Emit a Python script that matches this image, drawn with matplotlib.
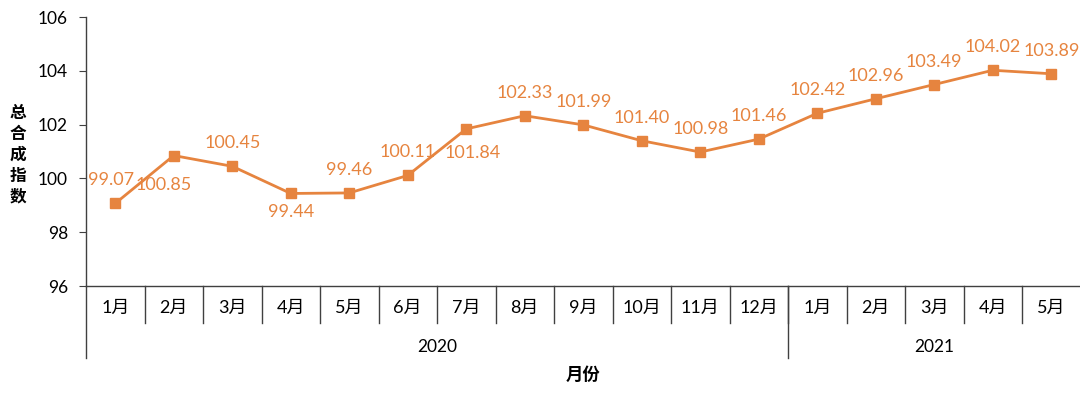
import matplotlib
matplotlib.use("Agg")
import matplotlib.pyplot as plt
from matplotlib.lines import Line2D

plt.rcParams['font.family'] = ['Lato', 'Noto Sans CJK SC', 'DejaVu Sans']

months = ["1月", "2月", "3月", "4月", "5月", "6月", "7月", "8月", "9月", "10月", "11月", "12月",
          "1月", "2月", "3月", "4月", "5月"]
years = ["2020", "2021"]
year_counts = [12, 5]
values = [99.07, 100.85, 100.45, 99.44, 99.46, 100.11, 101.84, 102.33, 101.99, 101.40,
          100.98, 101.46, 102.42, 102.96, 103.49, 104.02, 103.89]
# label placement keys (negative dy = below)
label_pos = ["above_left", "below_left", "above", "below", "above", "above", "below_right", "above",
             "above", "above", "above", "above", "above", "above", "above", "above", "above"]
offsets = {"above": (0, 23), "above_left": (-4, 23), "below": (0, -19),
           "below_left": (-10, -29), "below_right": (6, -24)}

color = "#E6843F"
axis_color = "#404040"

fig = plt.figure(figsize=(10.8, 3.94), dpi=100)
W, H = 1080, 394
left, right, top, bottom = 86, 1080.5, 17, 286
ax = fig.add_axes([left / W, 1 - bottom / H, (right - left) / W, (bottom - top) / H])

x = list(range(len(values)))
ax.plot(x, values, color=color, lw=2, marker="s", ms=7, mec=color, mfc=color, zorder=3)

for xi, v, pos in zip(x, values, label_pos):
    dx, dy = offsets[pos]
    ax.annotate(f"{v:.2f}", (xi, v), xytext=(dx, dy), textcoords="offset pixels",
                ha="center", va="center", color=color, fontsize=13)

ax.set_xlim(-0.5, len(values) - 0.5)
ax.set_ylim(96, 106)
ax.set_yticks([96, 98, 100, 102, 104, 106])
ax.tick_params(axis="y", direction="out", length=5, color=axis_color, labelsize=12.5, pad=8)
ax.set_xticks([])
for s in ["top", "right"]:
    ax.spines[s].set_visible(False)
for s in ["left", "bottom"]:
    ax.spines[s].set_color(axis_color)
    ax.spines[s].set_linewidth(1)

ah = bottom - top
month_sep = -37 / ah
year_sep = -72 / ah
trans = ax.get_xaxis_transform()

# month labels and separators
for i, m in enumerate(months):
    ax.text(i, -22 / ah, m, transform=trans, ha="center", va="center", fontsize=13)
for i in range(1, len(months)):
    b = i - 0.5
    ax.add_line(Line2D([b, b], [0, month_sep], transform=trans, color=axis_color, lw=1,
                       clip_on=False))

# year labels and separators
start = 0
bounds = [-0.5]
for yname, cnt in zip(years, year_counts):
    center = start + (cnt - 1) / 2
    ax.text(center, -61 / ah, yname, transform=trans, ha="center", va="center", fontsize=12.5)
    start += cnt
    bounds.append(start - 0.5)
for b in bounds[:-1]:
    ax.add_line(Line2D([b, b], [0, year_sep], transform=trans, color=axis_color, lw=1,
                       clip_on=False))

ax.text(0.5, -89 / ah, "月份", transform=ax.transAxes, ha="center", va="center",
        fontsize=12.5, fontweight="bold", family=['Noto Sans CJK SC', 'DejaVu Sans'])

fig.text(18 / W, 1 - 155 / H, "总\n合\n成\n指\n数", ha="center", va="center", fontsize=12,
         fontweight="bold", linespacing=1.2, family=['Noto Sans CJK SC', 'DejaVu Sans'])

fig.savefig("out.png", dpi=100)
